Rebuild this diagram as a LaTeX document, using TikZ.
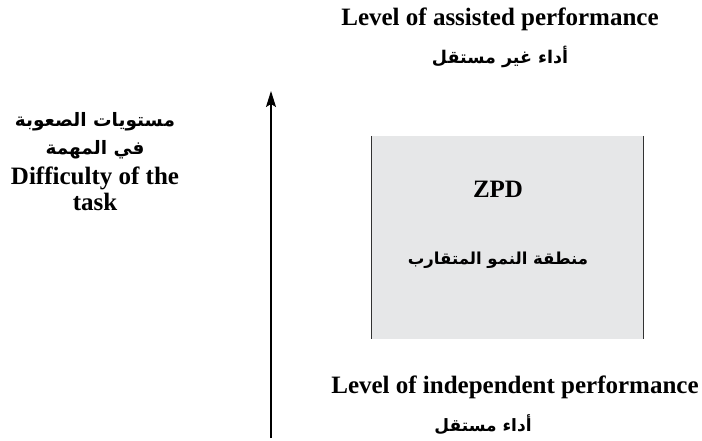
\documentclass[tikz,border=0pt]{standalone}
\usepackage{fontspec}
\setmainfont{Liberation Serif}
\newfontfamily\arabicfont[Script=Arabic]{DejaVu Sans}
\TeXXeTstate=1
\usetikzlibrary{arrows.meta}
\usetikzlibrary{positioning}
\definecolor{zonegray}{RGB}{230,231,232}
\definecolor{linegray}{RGB}{50,50,50}
\tikzset{>={Stealth[length=16pt,width=10pt,inset=3pt]}}
\tikzset{entext/.style={font=\fontsize{25}{25}\selectfont\bfseries, inner sep=0pt, anchor=base}}
\tikzset{artext/.style={font=\arabicfont\fontsize{#1}{#1}\selectfont\bfseries, inner sep=0pt, anchor=base}}
\tikzset{zone/.style={fill=zonegray, inner sep=0pt, minimum width=271pt, minimum height=203pt}}
\begin{document}
\begin{tikzpicture}[x=1pt, y=-1pt]
	\useasboundingbox (0,0) rectangle (702,441);

	% zone of proximal development
	\node [zone] (zpd) at (507.5,237.5) {};
	\draw [linegray, line width=1.2pt] (zpd.north west) -- (zpd.south west);
	\draw [linegray, line width=1.2pt] (zpd.north east) -- (zpd.south east);
	\node [entext] (zpdname) at (498,198) {ZPD};
	\node [artext=16.5] (zpdar) at (498,264) {\beginR منطقة النمو المتقارب\endR};

	% levels of performance
	\node [entext] (assisted) at (500,26) {Level of assisted performance};
	\node [artext=17.5] (assistedar) at (500,64) {\beginR أداء غير مستقل\endR};
	\node [entext] (indep) at (515,393) {Level of independent performance};
	\node [artext=17] (indepar) at (483,431) {\beginR أداء مستقل\endR};

	% axis
	\coordinate (axisbase) at (271,438);
	\coordinate (axistip) at (271,91);
	\draw [->, line width=1.2pt, black] (axisbase) -- (axistip);

	\node [artext=18.5] (diffar1) at (95,127) {\beginR مستويات الصعوبة\endR};
	\node [artext=18.5] (diffar2) at (95,155) {\beginR في المهمة\endR};
	\node [entext] (diffen1) at (95,185) {Difficulty of the};
	\node [entext] (diffen2) at (95,211) {task};
\end{tikzpicture}
\end{document}
